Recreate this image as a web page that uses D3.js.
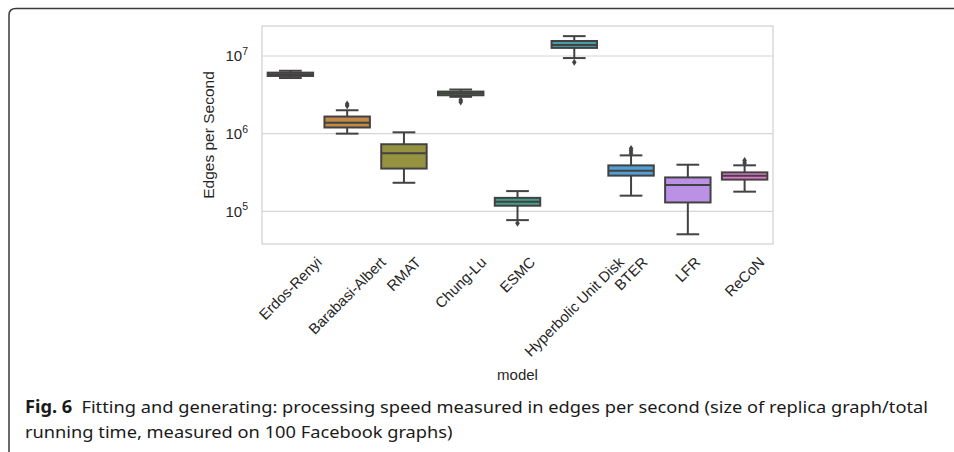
<!DOCTYPE html>
<html>
<head>
<meta charset="utf-8">
<script src="https://cdn.jsdelivr.net/npm/d3@7"></script>
<style>
  html, body { margin: 0; padding: 0; background: #fff; }
  svg { display: block; }
</style>
</head>
<body>
<svg id="chart" width="954" height="452"></svg>
<script>
// Processing speed per generator model (edges per second), box summaries.
const categories = ["Erdos-Renyi", "Barabasi-Albert", "RMAT", "Chung-Lu", "ESMC",
                    "Hyperbolic Unit Disk", "BTER", "LFR", "ReCoN"];
const q1          = [5.53e6, 1.20e6, 3.55e5, 3.12e6, 1.18e5, 1.27e7, 2.88e5, 1.30e5, 2.56e5];
const median      = [5.80e6, 1.38e6, 5.60e5, 3.30e6, 1.33e5, 1.38e7, 3.34e5, 2.18e5, 2.87e5];
const q3          = [6.10e6, 1.66e6, 7.30e5, 3.48e6, 1.49e5, 1.56e7, 3.90e5, 2.73e5, 3.17e5];
const whiskerLow  = [5.20e6, 1.00e6, 2.33e5, 2.98e6, 7.70e4, 9.40e6, 1.59e5, 5.06e4, 1.79e5];
const whiskerHigh = [6.45e6, 2.00e6, 1.04e6, 3.70e6, 1.82e5, 1.80e7, 5.25e5, 3.98e5, 3.91e5];
const outliers    = [[], [2.28e6, 2.40e6], [], [2.72e6, 2.55e6], [7.0e4], [8.3e6],
                     [5.6e5, 6.0e5, 6.45e5], [], [4.2e5, 4.5e5]];
const yTicks = [1e5, 1e6, 1e7];
const yLabel = "Edges per Second";
const xLabel = "model";
const captionBold = "Fig. 6";
const captionLine1 = "Fitting and generating: processing speed measured in edges per second (size of replica graph/total";
const captionLine2 = "running time, measured on 100 Facebook graphs)";

// --- HUSL palette (same hue spacing as seaborn's husl_palette) ---
const Mx = [[3.2406, -1.5372, -0.4986], [-0.9689, 1.8758, 0.0415], [0.0557, -0.2040, 1.0570]];
const refU = 0.19784, refV = 0.46834, labE = 0.008856, labK = 903.3;
function maxChroma(L, H) {
  const hr = H / 180 * Math.PI, s = Math.sin(hr), c = Math.cos(hr);
  const sub1 = Math.pow(L + 16, 3) / 1560896;
  const sub2 = sub1 > labE ? sub1 : L / labK;
  let res = Infinity;
  for (const [m1, m2, m3] of Mx) {
    const top = (0.99915 * m1 + 1.05122 * m2 + 1.14460 * m3) * sub2;
    const rb = 0.86330 * m3 - 0.17266 * m2;
    const lb = 0.12949 * m3 - 0.38848 * m1;
    const bottom = (rb * s + lb * c) * sub2;
    for (const t of [0, 1]) {
      const C = L * (top - 1.05122 * t) / (bottom + 0.17266 * s * t);
      if (C > 0 && C < res) res = C;
    }
  }
  return res;
}
function huslToRgb(H, S, L) {
  const C = maxChroma(L, H) / 100 * S;
  const hr = H / 180 * Math.PI;
  const U = C * Math.cos(hr), V = C * Math.sin(hr);
  const t = (L + 16) / 116;
  const vY = Math.pow(t, 3) > labE ? Math.pow(t, 3) : (116 * t - 16) / labK;
  const vU = U / (13 * L) + refU, vV = V / (13 * L) + refV;
  const Y = vY;
  const X = -(9 * Y * vU) / ((vU - 4) * vV - vU * vV);
  const Z = (9 * Y - 15 * vV * Y - vV * X) / (3 * vV);
  const lin = Mx.map(r => r[0] * X + r[1] * Y + r[2] * Z);
  const rgb = lin.map(v => v <= 0.0031308 ? 12.92 * v : 1.055 * Math.pow(v, 1 / 2.4) - 0.055)
                 .map(v => Math.max(0, Math.min(1, v)) * 255);
  return d3.rgb(rgb[0], rgb[1], rgb[2]);
}
const n = categories.length;
const palette = categories.map((_, i) => {
  const h = ((i / n + 0.01) % 1) * 359;
  const col = d3.hsl(huslToRgb(h, 0.9 * 99, 0.65 * 99));
  col.s *= 0.75; // boxes are drawn slightly desaturated
  return col.formatHex();
});
const lineColor = "#424242";
const axisFont = "'Liberation Sans', Arial, sans-serif";
const textColor = "#262626";

// --- layout ---
const svg = d3.select("#chart");
const plot = { left: 262, right: 773, top: 26, bottom: 244 };

// outer figure frame (rounded top-left corner)
svg.append("path")
  .attr("d", "M9,470 V15 Q9,8.5 16,8.5 H970")
  .attr("fill", "none").attr("stroke", "#3a3a3a").attr("stroke-width", 1.5);

const x = d3.scaleBand().domain(categories).range([plot.left, plot.right]).paddingInner(0).paddingOuter(0);
const y = d3.scaleLog().domain([Math.pow(10, 4.579), Math.pow(10, 7.386)]).range([plot.bottom, plot.top]);

// gridlines
svg.append("g").selectAll("line").data(yTicks).join("line")
  .attr("x1", plot.left).attr("x2", plot.right)
  .attr("y1", d => y(d)).attr("y2", d => y(d))
  .attr("stroke", "#d6d6d6").attr("stroke-width", 1.2);

// plot frame
svg.append("rect")
  .attr("x", plot.left).attr("y", plot.top)
  .attr("width", plot.right - plot.left).attr("height", plot.bottom - plot.top)
  .attr("fill", "none").attr("stroke", "#d0d0d0").attr("stroke-width", 1.2);

// y tick labels 10^k
const yt = svg.append("g").selectAll("text").data(yTicks).join("text")
  .attr("x", 248).attr("y", d => y(d) + 5.5)
  .attr("text-anchor", "end")
  .attr("font-family", axisFont)
  .attr("font-size", 15).attr("fill", textColor);
yt.append("tspan").text("10");
yt.append("tspan").attr("dy", -6.5).attr("font-size", 10.5)
  .text(d => String(Math.round(Math.log10(d))));

// boxes
const bw = x.bandwidth() * 0.8;
const capW = bw / 2;
const boxes = svg.append("g").selectAll("g").data(categories).join("g");
boxes.each(function (c, i) {
  const g = d3.select(this);
  const cx = x(c) + x.bandwidth() / 2;
  // whiskers
  g.append("line").attr("x1", cx).attr("x2", cx)
    .attr("y1", y(q3[i])).attr("y2", y(whiskerHigh[i]))
    .attr("stroke", lineColor).attr("stroke-width", 2);
  g.append("line").attr("x1", cx).attr("x2", cx)
    .attr("y1", y(q1[i])).attr("y2", y(whiskerLow[i]))
    .attr("stroke", lineColor).attr("stroke-width", 2);
  // caps
  [whiskerHigh[i], whiskerLow[i]].forEach(v => {
    g.append("line").attr("x1", cx - capW / 2).attr("x2", cx + capW / 2)
      .attr("y1", y(v)).attr("y2", y(v))
      .attr("stroke", lineColor).attr("stroke-width", 2);
  });
  // box
  g.append("rect")
    .attr("x", cx - bw / 2).attr("width", bw)
    .attr("y", y(q3[i])).attr("height", y(q1[i]) - y(q3[i]))
    .attr("fill", palette[i]).attr("stroke", lineColor).attr("stroke-width", 2);
  // median
  g.append("line").attr("x1", cx - bw / 2).attr("x2", cx + bw / 2)
    .attr("y1", y(median[i])).attr("y2", y(median[i]))
    .attr("stroke", lineColor).attr("stroke-width", 2);
  // outliers (thin diamonds)
  g.selectAll("path.flier").data(outliers[i]).join("path")
    .attr("class", "flier")
    .attr("d", v => {
      const py = y(v);
      return `M${cx},${py - 3.5} L${cx + 2.3},${py} L${cx},${py + 3.5} L${cx - 2.3},${py} Z`;
    })
    .attr("fill", lineColor);
});

// rotated x tick labels, bounding box centred under each category
const labelTop = 255;
const tickFont = 14.8;
svg.append("g").selectAll("text").data(categories).join("text")
  .attr("font-family", axisFont)
  .attr("font-size", tickFont).attr("fill", textColor)
  .attr("text-anchor", "middle").attr("dominant-baseline", "central")
  .text(d => d)
  .each(function (d) {
    const w = this.getComputedTextLength();
    const h = tickFont * 0.9;
    const half = (w + h) / Math.SQRT2 / 2;
    const cx = x(d) + x.bandwidth() / 2;
    const cy = labelTop + half;
    d3.select(this).attr("x", 0).attr("y", 0)
      .attr("transform", `translate(${cx},${cy}) rotate(-45)`);
  });

// axis titles
svg.append("text")
  .attr("transform", `translate(214,${(plot.top + plot.bottom) / 2}) rotate(-90)`)
  .attr("text-anchor", "middle")
  .attr("font-family", axisFont)
  .attr("font-size", 15.5).attr("fill", textColor)
  .text(yLabel);
svg.append("text")
  .attr("x", (plot.left + plot.right) / 2).attr("y", 380)
  .attr("text-anchor", "middle")
  .attr("font-family", axisFont)
  .attr("font-size", 15).attr("fill", textColor)
  .text(xLabel);

// caption: both lines share one horizontal squeeze so glyph widths match
const capFont = "'Noto Sans', 'Open Sans', sans-serif";
const cap1 = svg.append("text")
  .attr("x", 25).attr("y", 413)
  .attr("font-family", capFont)
  .attr("font-size", 17).attr("fill", "#1a1a1a");
cap1.append("tspan").attr("font-weight", "bold").text(captionBold);
cap1.append("tspan").text("\u2002" + captionLine1);
const cap2 = svg.append("text")
  .attr("x", 25).attr("y", 438)
  .attr("font-family", capFont)
  .attr("font-size", 17).attr("fill", "#1a1a1a")
  .text(captionLine2);
const squeeze = 903 / cap1.node().getComputedTextLength();
cap1.attr("textLength", 903).attr("lengthAdjust", "spacingAndGlyphs");
cap2.attr("textLength", cap2.node().getComputedTextLength() * squeeze)
  .attr("lengthAdjust", "spacingAndGlyphs");
</script>
</body>
</html>
